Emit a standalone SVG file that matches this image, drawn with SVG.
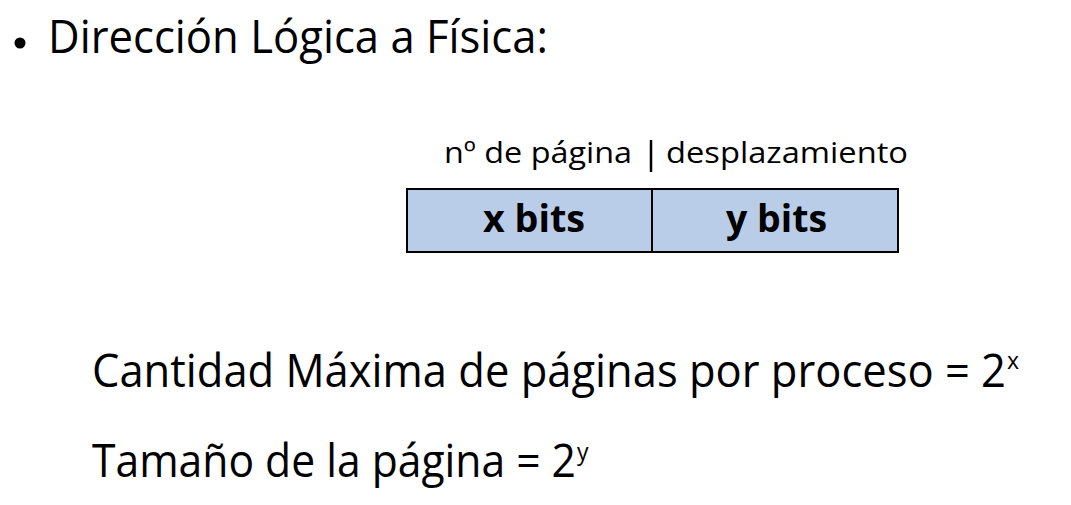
<svg xmlns="http://www.w3.org/2000/svg" width="1071" height="505" viewBox="0 0 1071 505">
<style>
text{font-family:"Open Sans","Noto Sans","Liberation Sans",sans-serif;fill:#000}
.big{font-size:45px}
.mid{font-size:30px}
.bold{font-size:37px;font-weight:bold}
.sup{font-size:23px}
.cell{fill:#b9cde8;stroke:#000;stroke-width:2}
</style>
<rect width="1071" height="505" fill="#fff"/>
<g id="title">
<circle cx="20" cy="43" r="5.5" fill="#000"/>
<text class="big" x="48" y="53" textLength="500" lengthAdjust="spacingAndGlyphs">Dirección Lógica a Física:</text>
</g>
<g id="labels">
<text class="mid" x="444" y="163" textLength="188" lengthAdjust="spacingAndGlyphs">nº de página</text>
<line x1="651" y1="140" x2="651" y2="172" stroke="#000" stroke-width="2.5"/>
<text class="mid" x="666" y="163" textLength="242" lengthAdjust="spacingAndGlyphs">desplazamiento</text>
</g>
<g id="x-bits">
<rect class="cell" x="407" y="189" width="245" height="63"/>
<text class="bold" x="483" y="232" textLength="102" lengthAdjust="spacingAndGlyphs">x bits</text>
</g>
<g id="y-bits">
<rect class="cell" x="652" y="189" width="246" height="63"/>
<text class="bold" x="726" y="232" textLength="101" lengthAdjust="spacingAndGlyphs">y bits</text>
</g>
<g id="formula1">
<text class="big" x="92" y="387"><tspan textLength="914" lengthAdjust="spacingAndGlyphs">Cantidad Máxima de páginas por proceso = 2</tspan><tspan class="sup" x="1007" y="369">x</tspan></text>
</g>
<g id="formula2">
<text class="big" x="92" y="477"><tspan textLength="484" lengthAdjust="spacingAndGlyphs">Tamaño de la página = 2</tspan><tspan class="sup" x="577" y="460">y</tspan></text>
</g>
</svg>
